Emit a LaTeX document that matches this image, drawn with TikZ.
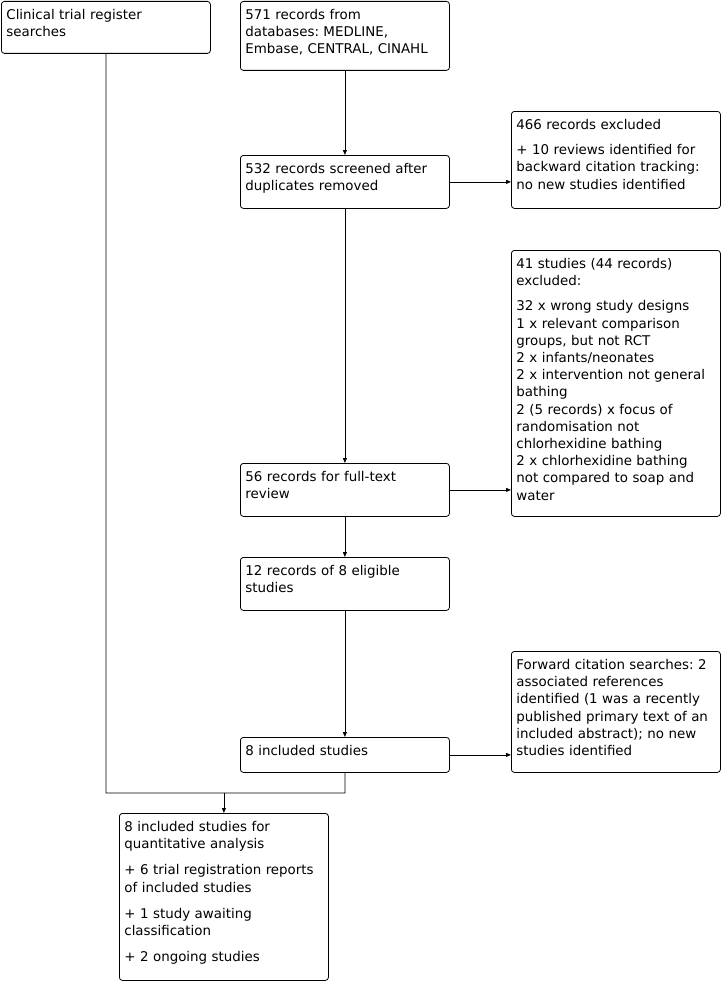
\documentclass[tikz,border=0pt]{standalone}
\usepackage{fontspec}
\setmainfont{DejaVu Sans}
\usetikzlibrary{arrows.meta,positioning,calc}
\tikzset{
  flowbox/.style={draw,rounded corners=3pt,anchor=north west,align=left,
    text width=199pt,inner xsep=5pt,inner ysep=4pt,text height=14pt,
    line width=0.8pt,font=\fontsize{13.4}{17.2}\selectfont\frenchspacing},
  lnk/.style={line width=0.8pt},
  arr/.style={-{Triangle[length=5pt,width=4pt]},line width=0.8pt}
}

\begin{document}
\begin{tikzpicture}[x=1pt,y=-1pt]
  \useasboundingbox (0,0) rectangle (722,982);
  % sources
  \node[flowbox,text depth=30pt] (reg) at (1,1) {Clinical trial register\\searches};
  \node[flowbox,text depth=47pt] (db) at (240,1) {571 records from\\databases: MEDLINE,\\Embase, CENTRAL, CINAHL};
  % screening column
  \node[flowbox,text depth=31pt] (scr) at (240,155) {532 records screened after\\duplicates removed};
  \node[flowbox,text depth=31pt] (full) at (240,463) {56 records for full-text\\review};
  \node[flowbox,text depth=31pt] (elig) at (240,557) {12 records of 8 eligible\\studies};
  \node[flowbox,text depth=13pt] (incl) at (240,737) {8 included studies};
  % exclusions on the right
  \node[flowbox,text depth=75pt] (excl1) at (511,111) {466 records excluded\\[8pt]+ 10 reviews identified for\\backward citation tracking:\\no new studies identified};
  \node[flowbox,text depth=244pt] (excl2) at (511,250) {41 studies (44 records)\\excluded:\\[8pt]32 x wrong study designs\\1 x relevant comparison\\groups, but not RCT\\2 x infants/neonates\\2 x intervention not general\\bathing\\2 (5 records) x focus of\\randomisation not\\chlorhexidine bathing\\2 x chlorhexidine bathing\\not compared to soap and\\water};
  \node[flowbox,text depth=99pt] (fwd) at (511,651) {Forward citation searches: 2\\associated references\\identified (1 was a recently\\published primary text of an\\included abstract); no new\\studies identified};
  % final set
  \node[flowbox,text depth=145pt] (final) at (119,813) {8 included studies for\\quantitative analysis\\[9pt]+ 6 trial registration reports\\of included studies\\[9pt]+ 1 study awaiting\\classification\\[9pt]+ 2 ongoing studies};
  % connectors
  \draw[arr] (db) -- (scr);
  \draw[arr] (scr) -- (scr -| excl1.west);
  \draw[arr] (scr) -- (full);
  \draw[arr] (full) -- (full -| excl2.west);
  \draw[arr] (full) -- (elig);
  \draw[arr] (elig) -- (incl);
  \draw[arr] (incl) -- (incl -| fwd.west);
  \coordinate (bend) at (345,793);
  \draw[lnk] (reg.south) |- (bend) -- (incl.south);
  \draw[arr] (final.north |- bend) -- (final.north);
\end{tikzpicture}
\end{document}
